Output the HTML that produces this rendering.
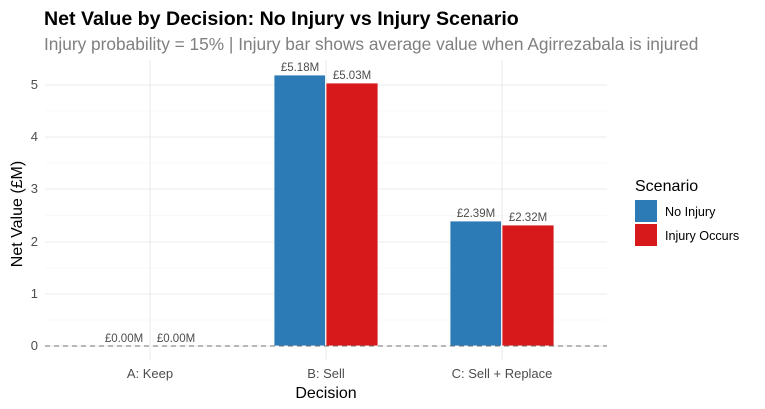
<!DOCTYPE html>
<html><head><meta charset="utf-8"><style>
html,body{margin:0;padding:0;background:#fff;}
svg{display:block;font-family:"Liberation Sans",Arial,sans-serif;}
</style></head><body>
<svg width="765" height="409" viewBox="0 0 765 409" xmlns="http://www.w3.org/2000/svg">
<rect width="765" height="409" fill="#fff"/>
<text x="44" y="25" font-size="19.6" font-weight="bold" fill="#000">Net Value by Decision: No Injury vs Injury Scenario</text>
<text x="44" y="50" font-size="17.3" fill="#7f7f7f">Injury probability = 15% | Injury bar shows average value when Agirrezabala is injured</text>
<g stroke="#f2f2f2" stroke-width="0.6">
<line x1="45" x2="607" y1="320" y2="320"/><line x1="45" x2="607" y1="268" y2="268"/>
<line x1="45" x2="607" y1="215.5" y2="215.5"/><line x1="45" x2="607" y1="163" y2="163"/>
<line x1="45" x2="607" y1="111" y2="111"/>
</g>
<g stroke="#ebebeb" stroke-width="1.1">
<line x1="45" x2="607" y1="346" y2="346"/><line x1="45" x2="607" y1="294" y2="294"/>
<line x1="45" x2="607" y1="242" y2="242"/><line x1="45" x2="607" y1="189" y2="189"/>
<line x1="45" x2="607" y1="137" y2="137"/><line x1="45" x2="607" y1="85" y2="85"/>
<line x1="150" x2="150" y1="60" y2="360"/><line x1="326" x2="326" y1="60" y2="360"/>
<line x1="502" x2="502" y1="60" y2="360"/>
</g>
<g stroke="#fff" stroke-width="0.8">
<rect x="274" y="75" width="51.5" height="271" fill="#2c7bb6"/>
<rect x="326" y="83" width="52" height="263" fill="#d7191c"/>
<rect x="450" y="221" width="51.5" height="125" fill="#2c7bb6"/>
<rect x="502" y="225" width="52" height="121" fill="#d7191c"/>
</g>
<line x1="45" x2="607" y1="346" y2="346" stroke="#707070" stroke-width="1" stroke-dasharray="5,4"/>
<g font-size="11.5" fill="#4d4d4d" text-anchor="middle">
<text x="124" y="342">£0.00M</text><text x="176" y="342">£0.00M</text>
<text x="300" y="71">£5.18M</text><text x="352" y="79">£5.03M</text>
<text x="476" y="217">£2.39M</text><text x="528" y="221">£2.32M</text>
</g>
<g font-size="13" fill="#4d4d4d" text-anchor="end">
<text x="38" y="350">0</text><text x="38" y="298">1</text><text x="38" y="246">2</text>
<text x="38" y="193">3</text><text x="38" y="141">4</text><text x="38" y="89">5</text>
</g>
<g font-size="13" fill="#4d4d4d" text-anchor="middle">
<text x="150" y="378">A: Keep</text><text x="326" y="378">B: Sell</text><text x="502" y="378">C: Sell + Replace</text>
</g>
<text x="326" y="398" font-size="16" text-anchor="middle" fill="#000">Decision</text>
<text transform="translate(22,214) rotate(-90)" font-size="16" text-anchor="middle" fill="#000">Net Value (£M)</text>
<text x="635" y="191" font-size="16" fill="#000">Scenario</text>
<rect x="635" y="200" width="22" height="22" fill="#2c7bb6"/>
<rect x="635" y="224" width="22" height="22" fill="#d7191c"/>
<text x="665" y="216" font-size="12.6" fill="#000">No Injury</text>
<text x="665" y="240" font-size="12.6" fill="#000">Injury Occurs</text>
</svg>
</body></html>
